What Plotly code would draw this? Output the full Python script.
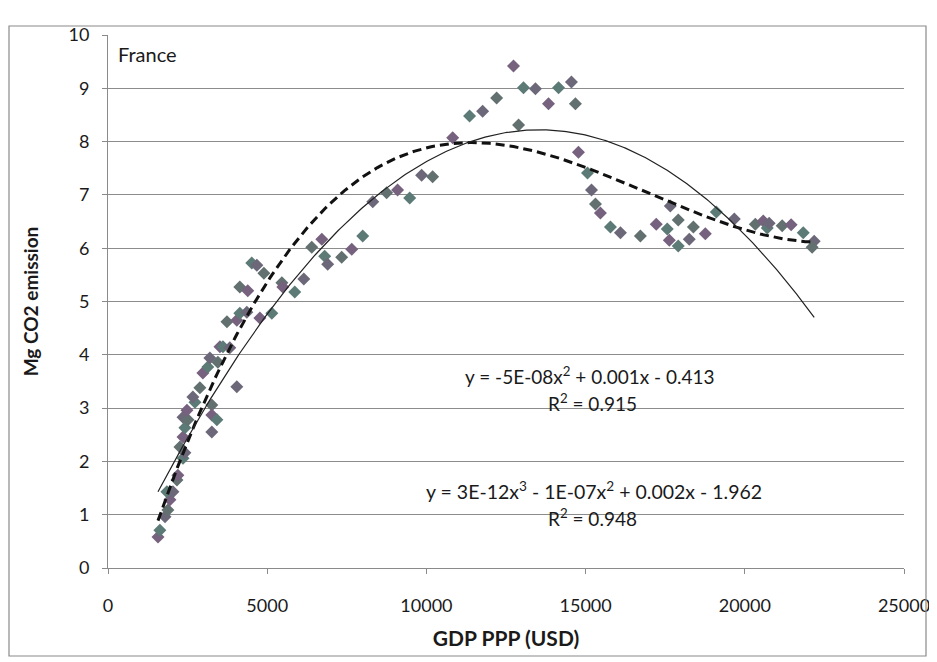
import numpy as np
import plotly.graph_objects as go

# GDP PPP (USD) and Mg CO2 emission
gdp = [1570, 1630, 1790, 1880, 1945, 1850, 2040, 2165, 2195, 2355,
       2415, 2260, 2355, 2415, 2355, 2510, 2480, 2730, 2665, 2885,
       2980, 3135, 3200, 3450, 3515, 3610, 3825, 3735, 4045, 4140,
       4360, 4140, 4390, 4515, 4675, 4895, 4770, 5145, 4045, 3260,
       3260, 3420, 3260, 5460, 5490, 5865, 6150, 6400, 6715, 6805,
       6900, 7340, 7655, 8000, 8315, 8750, 9095, 9475, 9850, 10195,
       10825, 11355, 11765, 12205, 12735, 13050, 13425, 12895, 13835, 14150,
       14555, 14680, 14775, 15060, 15185, 15310, 15465, 15780, 16095, 16720,
       17220, 17565, 17660, 17910, 17630, 17910, 18255, 18385, 18760, 19105,
       19670, 20330, 20580, 20705, 20765, 21175, 21455, 21835, 22180, 22115]
co2 = [0.58, 0.71, 0.96, 1.09, 1.28, 1.43, 1.43, 1.65, 1.74, 2.06,
       2.16, 2.27, 2.46, 2.63, 2.83, 2.78, 2.96, 3.11, 3.21, 3.38,
       3.66, 3.77, 3.94, 3.86, 4.15, 4.15, 4.13, 4.62, 4.65, 4.78,
       4.80, 5.27, 5.20, 5.72, 5.68, 5.53, 4.69, 4.78, 3.40, 3.06,
       2.87, 2.78, 2.55, 5.35, 5.27, 5.18, 5.42, 6.02, 6.17, 5.85,
       5.70, 5.83, 5.98, 6.23, 6.87, 7.04, 7.09, 6.94, 7.37, 7.34,
       8.07, 8.48, 8.57, 8.82, 9.42, 9.01, 8.99, 8.31, 8.71, 9.01,
       9.12, 8.71, 7.80, 7.41, 7.09, 6.83, 6.66, 6.40, 6.29, 6.23,
       6.45, 6.36, 6.79, 6.53, 6.15, 6.04, 6.17, 6.40, 6.27, 6.68,
       6.55, 6.45, 6.51, 6.38, 6.47, 6.42, 6.44, 6.29, 6.13, 6.02]

# trend-line coefficients (x in units of 10 000 USD)
quad_coef = [-4.73, 12.82, -0.465]
cubic_coef = [2.776, -14.10, 21.33, -2.123]

x_ticks = [0, 5000, 10000, 15000, 20000, 25000]
x_tick_text = ["0", "5000", "10000", "15000", "20000", "25000"]
y_ticks = list(range(0, 11))

eq_quad = "y = -5E-08x<sup>2</sup> + 0.001x - 0.413"
r2_quad = "R<sup>2</sup> = 0.915"
eq_cubic = "y = 3E-12x<sup>3</sup> - 1E-07x<sup>2</sup> + 0.002x - 1.962"
r2_cubic = "R<sup>2</sup> = 0.948"
country = "France"

x_arr = np.array(gdp, dtype=float)
xs = np.linspace(x_arr.min(), x_arr.max(), 300)
quad = np.polyval(quad_coef, xs / 10000.0)
cubic = np.polyval(cubic_coef, xs / 10000.0)

palette = ["#76617f", "#5c7a76", "#6d6879", "#62706f"]
colors = [palette[i % len(palette)] for i in range(len(gdp))]

FONT = "Lato"

fig = go.Figure()
fig.add_trace(go.Scatter(x=gdp, y=co2, mode="markers",
                         marker=dict(symbol="diamond", size=10, color=colors,
                                     line=dict(width=0)),
                         showlegend=False))
fig.add_trace(go.Scatter(x=xs, y=cubic, mode="lines",
                         line=dict(color="#111111", width=3, dash="9px,5px"),
                         showlegend=False))
fig.add_trace(go.Scatter(x=xs, y=quad, mode="lines",
                         line=dict(color="#222222", width=1.2), showlegend=False))

# page body has an 8px margin: figure is placed at (8, 8) in the window
OFF = 8
W, H = 937 - OFF, 662 - OFF
L, T = 108 - OFF, 35 - OFF
R = W - (904 - OFF)
B = H - (568 - OFF)
pw, ph = W - L - R, H - T - B

def px(xp):
    return (xp - OFF - L) / pw

def py(yp):
    return (H - B - (yp - OFF)) / ph

fig.update_layout(
    width=W, height=H,
    margin=dict(l=L, r=R, t=T, b=B, autoexpand=False),
    paper_bgcolor="white", plot_bgcolor="white",
    font=dict(family=FONT, size=18, color="#1a1a1a"),
    xaxis=dict(range=[0, 25000], tickvals=x_ticks, ticktext=x_tick_text,
               showgrid=False, automargin=False,
               zeroline=False, showline=True, linecolor="#8a8a8a", linewidth=1,
               ticks="outside", ticklen=5, tickcolor="#8a8a8a",
               ticklabelstandoff=16,
               title=dict(text="<b>GDP PPP (USD)</b>", standoff=16,
                          font=dict(size=21))),
    yaxis=dict(range=[0, 10], tickvals=y_ticks, showgrid=True, automargin=False,
               gridcolor="#8c8c8c", gridwidth=1, zeroline=False,
               showline=True, linecolor="#8a8a8a", linewidth=1,
               ticks="outside", ticklen=5, tickcolor="#8a8a8a",
               ticklabelstandoff=9,
               title=dict(text="<b>Mg CO2 emission</b>", standoff=24,
                          font=dict(size=19))),
)

# outer chart border
fig.add_shape(type="rect", xref="paper", yref="paper",
              x0=px(9), x1=px(926), y0=py(656), y1=py(26),
              line=dict(color="#8a8a8a", width=1.2), fillcolor="rgba(0,0,0,0)")

fig.add_annotation(x=px(116), y=py(54), xref="paper", yref="paper",
                   text=country, showarrow=False, xanchor="left",
                   yanchor="middle", font=dict(size=20))
fig.add_annotation(x=px(590), y=py(375), xref="paper", yref="paper",
                   text=eq_quad, showarrow=False, xanchor="center",
                   yanchor="middle", font=dict(size=19))
fig.add_annotation(x=px(592), y=py(402), xref="paper", yref="paper",
                   text=r2_quad, showarrow=False, xanchor="center",
                   yanchor="middle", font=dict(size=19))
fig.add_annotation(x=px(594), y=py(490), xref="paper", yref="paper",
                   text=eq_cubic, showarrow=False, xanchor="center",
                   yanchor="middle", font=dict(size=19.5))
fig.add_annotation(x=px(592), y=py(517), xref="paper", yref="paper",
                   text=r2_cubic, showarrow=False, xanchor="center",
                   yanchor="middle", font=dict(size=19))

fig.write_html("out.html")
